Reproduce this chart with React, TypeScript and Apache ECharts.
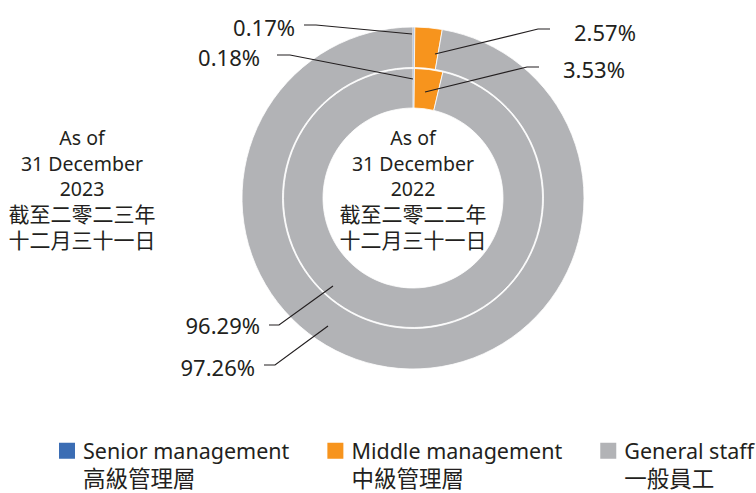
import React, { useEffect, useRef } from 'react';
import * as echarts from 'echarts';

const categories = ['Senior management', 'Middle management', 'General staff'];
const categoriesZh = ['高級管理層', '中級管理層', '一般員工'];
const values2023 = [0.17, 2.57, 97.26];
const values2022 = [0.18, 3.53, 96.29];
const colors = ['#3b6db4', '#f7941d', '#b2b3b6'];
const centerLabel2023 = ['As of', '31 December', '2023', '截至二零二三年', '十二月三十一日'];
const centerLabel2022 = ['As of', '31 December', '2022', '截至二零二二年', '十二月三十一日'];

const FONT = "'Noto Sans', 'Noto Sans CJK TC', sans-serif";
const TEXT = '#231f20';
const CX = 413;
const CY = 198;

// label placement (annotation layout)
const layout2023 = [
  { x: 295, y: 27, align: 'right', labelLinePoints: [[412, 34], [316, 25], [304, 25]] },
  { x: 574, y: 32, align: 'left', labelLinePoints: [[435, 54], [538, 29], [550, 29]] },
  { x: 255, y: 367, align: 'right', labelLinePoints: [[328, 326], [275, 365], [264, 365]] },
];
const layout2022 = [
  { x: 260, y: 57, align: 'right', labelLinePoints: [[413, 79], [290, 55], [277, 55]] },
  { x: 563, y: 69, align: 'left', labelLinePoints: [[425, 92], [527, 67], [539, 67]] },
  { x: 260, y: 325, align: 'right', labelLinePoints: [[333, 286], [279, 325], [269, 325]] },
];

function ringSeries(name: string, values: number[], radius: number[]) {
  return {
    type: 'pie',
    name,
    center: [CX, CY],
    radius,
    startAngle: 90,
    clockwise: true,
    silent: true,
    z: 2,
    itemStyle: { borderColor: '#ffffff', borderWidth: 0.8 },
    data: categories.map((c, i) => ({ name: c, value: values[i], itemStyle: { color: colors[i] } })),
    label: { show: false },
    labelLine: { show: false },
  };
}

// transparent overlay carrying the percentage labels and leader lines above both rings
function labelSeries(name: string, values: number[], radius: number[], layout: any[]) {
  return {
    type: 'pie',
    name: name + ' labels',
    center: [CX, CY],
    radius,
    startAngle: 90,
    clockwise: true,
    avoidLabelOverlap: false,
    silent: true,
    z: 5,
    legendHoverLink: false,
    itemStyle: { color: 'rgba(0,0,0,0)', borderWidth: 0 },
    data: categories.map((c, i) => ({ name: c, value: values[i] })),
    label: {
      show: true,
      position: 'outside',
      formatter: (p: any) => p.value.toFixed(2) + '%',
      fontSize: 22,
      fontFamily: FONT,
      color: TEXT,
    },
    labelLine: { show: true, length: 10, length2: 10, lineStyle: { color: TEXT, width: 1.2 } },
    labelLayout: (p: any) => ({ ...layout[p.dataIndex], verticalAlign: 'middle' }),
  };
}

const centerText = (lines: string[]) =>
  lines.map((l, i) => (i < 3 ? `{en|${l}}` : `{zh|${l}}`)).join('\n');

const centerRich = {
  en: { fontSize: 19.5, fontFamily: FONT, fill: TEXT, color: TEXT, lineHeight: 25.5 },
  zh: { fontSize: 21, fontFamily: FONT, fill: TEXT, color: TEXT, lineHeight: 25.5 },
};

export default function App() {
  const ref = useRef<HTMLDivElement>(null);
  useEffect(() => {
    if (!ref.current) return;
    const chart = echarts.init(ref.current, undefined, { renderer: 'svg' });
    chart.setOption({
      animation: false,
      backgroundColor: '#ffffff',
      legend: {
        data: categories,
        left: 59,
        top: 440,
        width: 720,
        padding: 0,
        orient: 'horizontal',
        icon: 'path://M0,0L16,0L16,16L0,16Z M19,42L19,42.01',
        itemWidth: 19,
        itemHeight: 42,
        itemGap: 38,
        selectedMode: false,
        itemStyle: { borderWidth: 0 },
        formatter: (name: string) =>
          `{en|${name}}\n{zh|${categoriesZh[categories.indexOf(name)]}}`,
        textStyle: {
          fontFamily: FONT,
          color: TEXT,
          rich: {
            en: { fontSize: 21.5, fontFamily: FONT, color: TEXT, lineHeight: 30 },
            zh: { fontSize: 22.5, fontFamily: FONT, color: TEXT, lineHeight: 26 },
          },
        },
      },
      graphic: [
        {
          type: 'text',
          x: 82,
          y: 125,
          style: {
            text: centerText(centerLabel2023),
            rich: centerRich,
            fontFamily: FONT,
            fill: TEXT,
            align: 'center',
            verticalAlign: 'top',
          },
        },
        {
          type: 'text',
          x: CX,
          y: 125,
          style: {
            text: centerText(centerLabel2022),
            rich: centerRich,
            fontFamily: FONT,
            fill: TEXT,
            align: 'center',
            verticalAlign: 'top',
          },
        },
      ],
      series: [
        ringSeries('2023', values2023, [130.5, 171]),
        ringSeries('2022', values2022, [90, 129.5]),
        labelSeries('2023', values2023, [130.5, 171], layout2023),
        labelSeries('2022', values2022, [90, 129.5], layout2022),
      ],
    });
    return () => chart.dispose();
  }, []);
  return (
    <div
      ref={ref}
      style={{ position: 'fixed', left: 0, top: 0, width: 756, height: 493 }}
    />
  );
}
